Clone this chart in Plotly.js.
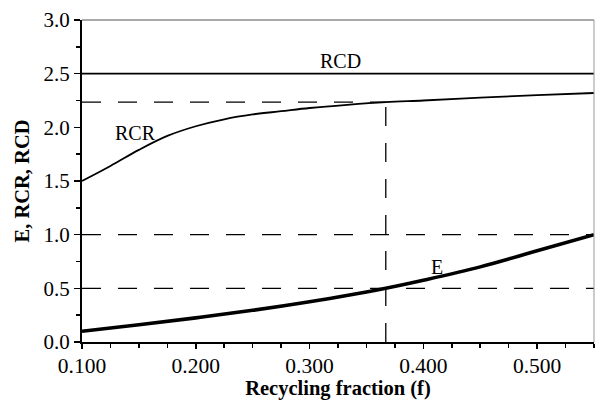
<!DOCTYPE html>
<html>
<head>
<meta charset="utf-8">
<script src="https://cdn.plot.ly/plotly-3.0.1.min.js"></script>
<style>html,body{margin:0;padding:0;background:#fff;}#chart{width:595px;height:400px;}</style>
</head>
<body>
<div id="chart"></div>
<script>
// Data
const fE = [0.10, 0.15, 0.20, 0.25, 0.30, 0.35, 0.367, 0.40, 0.45, 0.50, 0.55];
const E  = [0.10, 0.16, 0.225, 0.295, 0.375, 0.465, 0.50, 0.575, 0.70, 0.85, 1.00];
const fR = [0.10, 0.125, 0.15, 0.175, 0.20, 0.225, 0.25, 0.275, 0.30, 0.333, 0.367, 0.40, 0.45, 0.50, 0.55];
const RCR = [1.50, 1.64, 1.79, 1.92, 2.01, 2.075, 2.12, 2.15, 2.18, 2.21, 2.235, 2.25, 2.276, 2.30, 2.32];
const fD = [0.10, 0.55];
const RCD = [2.5, 2.5];
const fStar = 0.367;       // operating recycle fraction
const rcrStar = 2.235;     // RCR at operating point
const refLevels = [0.5, 1.0];
const labels = [
  {text: 'RCD', x: 0.327, y: 2.62},
  {text: 'RCR', x: 0.147, y: 1.95},
  {text: 'E', x: 0.412, y: 0.70}
];

const dashStyle = {color: '#000', width: 1.3, dash: '19px,17px'};
const traces = [];
refLevels.forEach(v => traces.push({x: [fD[0], fD[1]], y: [v, v], mode: 'lines', line: dashStyle, hoverinfo: 'skip'}));
traces.push({x: [fD[0], fStar], y: [rcrStar, rcrStar], mode: 'lines', line: dashStyle, hoverinfo: 'skip'});
traces.push({x: [fStar, fStar], y: [0, rcrStar], mode: 'lines', line: dashStyle, hoverinfo: 'skip'});
traces.push({x: fD, y: RCD, mode: 'lines', line: {color: '#000', width: 1.8}});
traces.push({x: fR, y: RCR, mode: 'lines', line: {color: '#000', width: 1.8, shape: 'spline', smoothing: 1}});
traces.push({x: fE, y: E, mode: 'lines', line: {color: '#000', width: 3.6, shape: 'spline', smoothing: 1}});

const FAM = '"Liberation Serif", "Times New Roman", serif';
const font = {family: FAM, color: '#000'};
const layout = {
  width: 595, height: 400,
  margin: {l: 82, r: 1, t: 20, b: 58},
  paper_bgcolor: '#fff', plot_bgcolor: '#fff',
  showlegend: false,
  font: Object.assign({size: 20}, font),
  xaxis: {
    range: [0.1, 0.55], tick0: 0.1, dtick: 0.1, tickformat: '.3f',
    showgrid: false, zeroline: false,
    showline: true, linecolor: '#000', linewidth: 2,
    ticks: 'outside', ticklen: 5, tickwidth: 1.5, tickcolor: '#000',
    ticklabelstandoff: -2,
    minor: {dtick: 0.025, ticks: 'outside', ticklen: 4, tickwidth: 1.5, tickcolor: '#000', showgrid: false},
    tickfont: Object.assign({size: 21.5}, font),
    title: {text: '<b>Recycling fraction (f)</b>', font: Object.assign({size: 20.5}, font), standoff: 0}
  },
  yaxis: {
    range: [0, 3], dtick: 0.5, tickformat: '.1f',
    showgrid: false, zeroline: false,
    showline: true, linecolor: '#000', linewidth: 2,
    ticks: 'outside', ticklen: 6, tickwidth: 1.5, tickcolor: '#000',
    minor: {dtick: 0.25, ticks: 'outside', ticklen: 4, tickwidth: 1.5, tickcolor: '#000', showgrid: false},
    tickfont: Object.assign({size: 21}, font),
    title: {text: '<b>E, RCR, RCD</b>', font: Object.assign({size: 20.5}, font), standoff: 8}
  },
  shapes: [
    {type: 'line', xref: 'paper', yref: 'paper', x0: 0, x1: 1, y0: 1, y1: 1, line: {color: '#555', width: 1.2}},
    {type: 'line', xref: 'paper', yref: 'paper', x0: 1, x1: 1, y0: 0, y1: 1, line: {color: '#999', width: 1}}
  ],
  annotations: labels.map(a => ({x: a.x, y: a.y, text: a.text, showarrow: false, font: Object.assign({size: 20}, font)}))
};
Plotly.newPlot('chart', traces, layout, {displayModeBar: false, staticPlot: true});
</script>
</body>
</html>
